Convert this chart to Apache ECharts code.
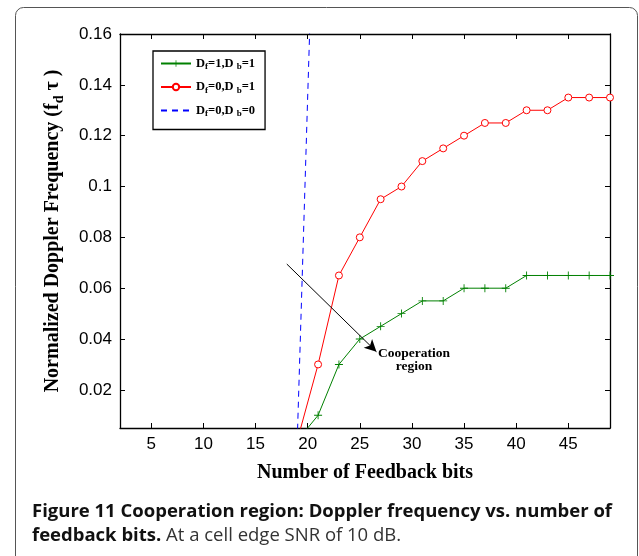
<!DOCTYPE html>
<html>
<head>
<meta charset="utf-8">
<script src="https://cdn.jsdelivr.net/npm/echarts@6/dist/echarts.min.js"></script>
<style>
  html, body { margin: 0; padding: 0; background: #fff; }
  #chart { width: 639px; height: 556px; }
</style>
</head>
<body>
<div id="chart"></div>
<script>
// feedback bits (x) and doppler values
const bits = [19, 21, 23, 25, 27, 29, 31, 33, 35, 37, 39, 41, 43, 45, 47, 49];
const coopBoth = [0, 0.01, 0.03, 0.04, 0.045, 0.05, 0.055, 0.055, 0.06, 0.06, 0.06, 0.065, 0.065, 0.065, 0.065, 0.065];
const coopBwd = [0, 0.03, 0.065, 0.08, 0.095, 0.1, 0.11, 0.115, 0.12, 0.125, 0.125, 0.13, 0.13, 0.135, 0.135, 0.135];
const noCoopBits = [19, 21];
const noCoop = [0, 0.27];
const xTicks = [5, 10, 15, 20, 25, 30, 35, 40, 45];
const yTicks = [0.02, 0.04, 0.06, 0.08, 0.1, 0.12, 0.14, 0.16];
const names = ['Df=1,Db=1', 'Df=0,Db=1', 'Df=0,Db=0'];

const zip = (xs, ys) => xs.map((x, i) => [x, ys[i]]);
const serif = '"Liberation Serif", "DejaVu Serif", serif';
const sans = '"Liberation Sans", Arial, sans-serif';
const capFont = '"Open Sans", "Noto Sans", sans-serif';

const legendText = {
  'Df=1,Db=1': '{m|D}{s|f}{m|=1,D }{s|b}{m|=1}',
  'Df=0,Db=1': '{m|D}{s|f}{m|=0,D }{s|b}{m|=1}',
  'Df=0,Db=0': '{m|D}{s|f}{m|=0,D }{s|b}{m|=0}'
};

const plus = 'path://M4,0h1v4h4v1h-4v4h-1v-4h-4v-1h4z';

const axisBase = {
  type: 'value',
  axisLine: { show: true, lineStyle: { color: '#000', width: 1.3 } },
  splitLine: { show: false }
};
const tickStyle = vals => ({ show: true, inside: true, length: 5, customValues: vals, lineStyle: { color: '#000' } });

const chart = echarts.init(document.getElementById('chart'));
chart.setOption({
  animation: false,
  grid: { left: 120, top: 34, right: 29, bottom: 128, containLabel: false },
  legend: {
    data: [names[0], names[1], { name: names[2], itemStyle: { opacity: 0 } }],
    orient: 'vertical',
    left: 153,
    top: 51,
    padding: [6, 10, 11, 7],
    itemGap: 9,
    itemWidth: 30,
    itemHeight: 8,
    borderColor: '#000',
    borderWidth: 1.3,
    selectedMode: false,
    formatter: n => legendText[n],
    textStyle: {
      rich: {
        m: { fontFamily: serif, fontWeight: 'bold', fontSize: 12.5, color: '#000', lineHeight: 16, verticalAlign: 'middle' },
        s: { fontFamily: serif, fontWeight: 'bold', fontSize: 9, color: '#000', verticalAlign: 'bottom' }
      }
    }
  },
  xAxis: [
    Object.assign({}, axisBase, {
      min: 2, max: 49,
      name: 'Number of Feedback bits',
      nameLocation: 'middle',
      nameGap: 35,
      nameTextStyle: { fontFamily: serif, fontWeight: 'bold', fontSize: 20, color: '#000' },
      axisTick: tickStyle(xTicks),
      axisLabel: { customValues: xTicks, margin: 8, fontFamily: sans, fontSize: 17, color: '#000' }
    }),
    Object.assign({}, axisBase, {
      position: 'top', min: 2, max: 49,
      axisTick: tickStyle(xTicks),
      axisLabel: { show: false }
    })
  ],
  yAxis: [
    Object.assign({}, axisBase, {
      min: 0.005, max: 0.16,
      name: '{m|Normalized Doppler Frequency (f}{s|d}{m| τ )}',
      nameLocation: 'middle',
      nameGap: 54,
      nameTextStyle: {
        rich: {
          m: { fontFamily: serif, fontWeight: 'bold', fontSize: 20, color: '#000', lineHeight: 26, verticalAlign: 'middle' },
          s: { fontFamily: serif, fontWeight: 'bold', fontSize: 14, color: '#000', verticalAlign: 'bottom' }
        }
      },
      axisTick: tickStyle(yTicks),
      axisLabel: { customValues: yTicks, margin: 8, fontFamily: sans, fontSize: 17, color: '#000', formatter: v => String(+v.toFixed(2)) }
    }),
    Object.assign({}, axisBase, {
      position: 'right', min: 0.005, max: 0.16,
      axisTick: tickStyle(yTicks),
      axisLabel: { show: false }
    })
  ],
  series: [
    {
      name: names[0], type: 'line', data: zip(bits, coopBoth), clip: true,
      symbol: plus, symbolSize: 8,
      itemStyle: { color: '#008000' },
      lineStyle: { color: '#008000', width: 1 }
    },
    {
      name: names[1], type: 'line', data: zip(bits, coopBwd), clip: true,
      symbol: 'circle', symbolSize: 7,
      itemStyle: { color: '#fff', borderColor: '#ff0000', borderWidth: 1 },
      lineStyle: { color: '#ff0000', width: 1 }
    },
    {
      name: names[2], type: 'line', data: zip(noCoopBits, noCoop), clip: true,
      symbol: 'none',
      itemStyle: { color: '#0000ff' },
      lineStyle: { color: '#0000ff', width: 1, type: [6, 5] }
    },
    {
      type: 'line', data: [], silent: true,
      markLine: {
        silent: true,
        symbol: ['none', 'arrow'],
        symbolSize: [9, 12],
        label: { show: false },
        lineStyle: { color: '#000', width: 1, type: 'solid' },
        data: [[{ coord: [18, 0.0695] }, { coord: [26.6, 0.035] }]]
      },
      markPoint: {
        silent: true,
        symbol: 'circle', symbolSize: 0,
        label: {
          show: true, position: 'inside',
          formatter: 'Cooperation\nregion',
          fontFamily: serif, fontWeight: 'bold', fontSize: 13.5, lineHeight: 13, color: '#000'
        },
        data: [{ coord: [30.2, 0.0318] }]
      }
    }
  ],
  graphic: [
    {
      type: 'rect', silent: true, z: -1,
      shape: { x: 15.5, y: 7.5, width: 622, height: 570, r: 8 },
      style: { fill: 'none', stroke: '#555', lineWidth: 1 }
    },
    {
      type: 'text', left: 32, top: 502, silent: true,
      style: {
        text: '{b|Figure 11 Cooperation region: Doppler frequency vs. number of}\n{b|feedback bits.}{n| At a cell edge SNR of 10 dB.}',
        rich: {
          b: { fontFamily: capFont, fontWeight: 'bold', fontSize: 18.5, lineHeight: 24, fill: '#111' },
          n: { fontFamily: capFont, fontSize: 18.5, lineHeight: 24, fill: '#333' }
        }
      }
    }
  ]
});
</script>
</body>
</html>
